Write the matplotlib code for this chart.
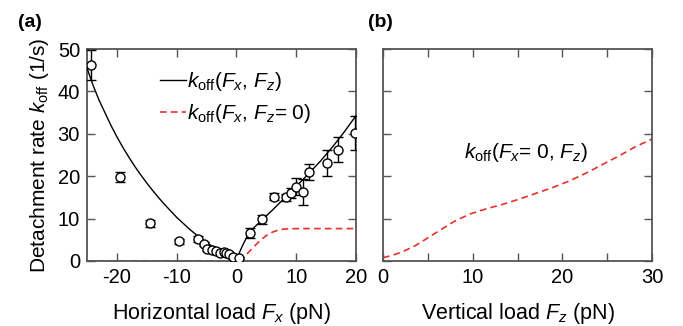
import numpy as np
import matplotlib
matplotlib.use('Agg')
import matplotlib.pyplot as plt

plt.rcParams['font.family'] = ['Liberation Sans', 'DejaVu Sans']
plt.rcParams['mathtext.fontset'] = 'custom'
plt.rcParams['mathtext.rm'] = 'Liberation Sans'
plt.rcParams['mathtext.it'] = 'Liberation Sans:italic'
plt.rcParams['mathtext.bf'] = 'Liberation Sans:bold'
plt.rcParams['axes.unicode_minus'] = False

# measured detachment rates vs horizontal load
fx_data = [-24.3, -19.4, -14.5, -9.6, -6.5, -5.4, -5.0, -4.1, -3.4, -2.8, -2.1, -1.7, -1.3, -0.6, 0.5,
           2.3, 4.3, 6.3, 8.2, 9.2, 10.0, 11.1, 12.2, 15.1, 17.0, 19.9]
k_data = [46.2, 19.8, 8.9, 4.7, 5.2, 4.1, 2.8, 2.5, 2.4, 1.9, 2.2, 1.9, 1.7, 0.9, 0.7,
          6.7, 9.8, 15.2, 15.0, 16.1, 17.5, 16.3, 21.0, 23.1, 26.3, 30.3]
k_err = [3.5, 1.2, 0.8, 0.6, 0.6, 0.5, 0.4, 0.4, 0.4, 0.4, 0.4, 0.3, 0.3, 0.3, 0.3,
         1.2, 1.0, 0.8, 0.8, 1.2, 2.0, 3.0, 2.0, 3.0, 3.0, 4.0]

# model k_off(Fx, Fz)
fx_model = [-25, -24, -23, -22, -21, -20, -19, -18, -17, -16, -15, -14, -13, -12, -11, -10,
            -9, -8, -7, -6, -5, -4, -3, -2, -1, 0,
            1, 2, 3, 4, 6, 8, 10, 12, 14, 16, 18, 20]
k_model = [45.5, 41.5, 38.0, 35.0, 32.0, 29.3, 26.8, 24.5, 22.3, 20.3, 18.4, 16.6, 14.9, 13.3,
           11.8, 10.3, 9.0, 7.7, 6.5, 5.4, 4.4, 3.4, 2.5, 1.6, 0.9, 0.4,
           3.6, 6.4, 8.0, 9.3, 12.0, 14.8, 17.6, 20.5, 23.5, 26.8, 30.4, 34.3]

# model k_off(Fx, Fz=0)
fx_nofz = [-25, -10, -2, 0, 0.5, 1, 1.5, 2, 2.5, 3, 4, 5, 6, 7, 8, 10, 20]
k_nofz = [0, 0, 0, 0, 0.1, 0.6, 1.3, 2.0, 2.8, 3.5, 4.9, 6.0, 6.8, 7.3, 7.55, 7.65, 7.65]

# model k_off(Fx=0, Fz)
fz_model = [0, 1, 2.3, 3.5, 4.5, 6, 7.9, 9.7, 11.5, 13.4, 15.2, 17.1, 19, 20.8, 22.7, 24.5, 26.5, 28, 30]
k_fz = [0.8, 1.3, 2.3, 3.5, 4.8, 6.8, 9.3, 11.1, 12.3, 13.4, 14.6, 16.0, 17.4, 18.9, 20.8, 22.8, 25.0, 26.8, 28.8]

red = '#e8302a'
spine_col = '#555555'

fig = plt.figure(figsize=(6.83, 3.26), dpi=100)
ax1 = fig.add_axes([0.1274, 0.1994, 0.3939, 0.650])
ax2 = fig.add_axes([0.5608, 0.1994, 0.3939, 0.650])

for ax in (ax1, ax2):
    ax.set_ylim(0, 50)
    ax.tick_params(direction='in', length=6, width=1, color=spine_col, top=True, right=True,
                   labelsize=14.5, pad=5)
    for sp in ax.spines.values():
        sp.set_color(spine_col)
        sp.set_linewidth(1.3)

# panel (a)
ax1.plot(fx_model, k_model, '-', color='black', lw=1, label=r'$k_{\rm off}$($F_x$, $F_z$)', zorder=3)
ax1.plot(fx_nofz, k_nofz, '--', color=red, lw=1.2, dashes=(4, 2.5),
         label=r'$k_{\rm off}$($F_x$, $F_z$= 0)', zorder=2)
ax1.errorbar(fx_data, k_data, yerr=k_err, fmt='o', ms=6.5, mfc='white', mec='black', mew=1,
             ecolor='black', elinewidth=1, capsize=3.5, capthick=1, zorder=4)
ax1.set_xlim(-25, 20)
ax1.set_xticks([-20, -10, 0, 10, 20])
ax1.set_yticks([0, 10, 20, 30, 40, 50])
ax1.set_xlabel(r'Horizontal load $F_x$ (pN)', fontsize=15.5, labelpad=10)
ax1.set_ylabel(r'Detachment rate $k_{\rm off}$ (1/s)', fontsize=15, labelpad=5)
ax1.legend(loc='upper left', bbox_to_anchor=(0.2, 0.99), frameon=False, fontsize=15,
           handlelength=1.25, handletextpad=0.05, labelspacing=0.45)
ax1.text(-0.256, 1.127, '(a)', transform=ax1.transAxes, fontsize=14, fontweight='bold',
         va='center')

# panel (b)
ax2.plot(fz_model, k_fz, '--', color=red, lw=1.2, dashes=(4, 2.5))
ax2.set_xlim(0, 30)
ax2.set_xticks([0, 5, 10, 15, 20, 25, 30])
ax2.set_xticklabels(['0', '', '10', '', '20', '', '30'])
ax2.set_yticks([0, 10, 20, 30, 40, 50])
ax2.set_yticklabels([])
ax2.set_xlabel(r'Vertical load $F_z$ (pN)', fontsize=15.5, labelpad=10)
ax2.text(16.0, 25.5, r'$k_{\rm off}$($F_x$= 0, $F_z$)', fontsize=15, ha='center', va='center')
ax2.text(-0.056, 1.127, '(b)', transform=ax2.transAxes, fontsize=14, fontweight='bold',
         va='center')

plt.savefig('out.png', dpi=100)
